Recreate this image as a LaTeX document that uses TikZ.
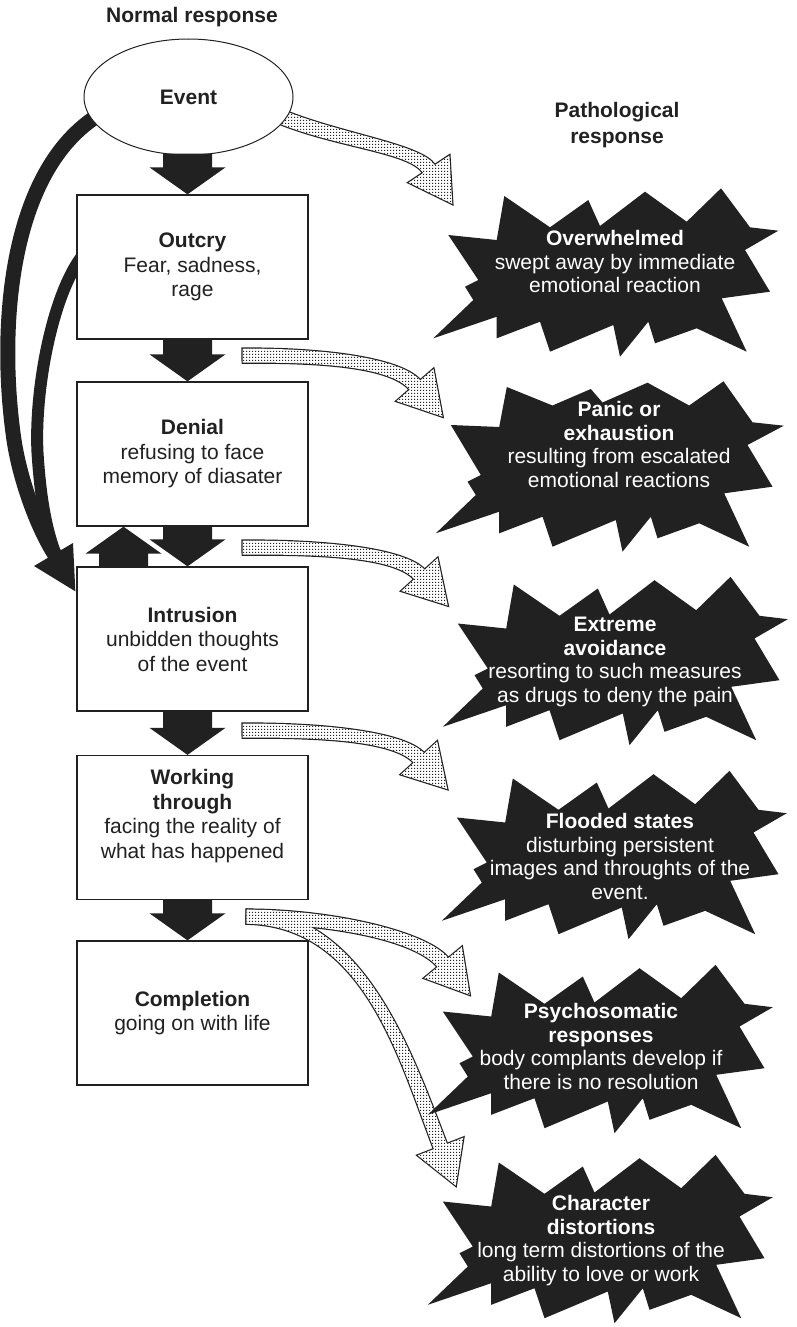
\documentclass[tikz,border=0pt]{standalone}
\usepackage{fontspec}
\setmainfont{Liberation Sans}
\usetikzlibrary{calc,shapes.geometric,patterns,backgrounds}
\definecolor{ink}{RGB}{33,33,33}

% fine grid of square dots for the hollow arrows
\pgfdeclarepatternformonly{finedots}{\pgfqpoint{0pt}{0pt}}{\pgfqpoint{3pt}{3pt}}{\pgfqpoint{3pt}{3pt}}%
  {\pgfpathrectangle{\pgfqpoint{0pt}{0pt}}{\pgfqpoint{1.4pt}{1.5pt}}\pgfusepath{fill}}

% half width of a hollow shaft, half width and length of its head
\def\sw{7pt}
\def\hw{24.5pt}
\def\hl{42pt}

% outline points of a hollow curved arrow with centre line #2 .. #3 and #4 .. #5
\newcommand\hollowdef[5]{%
  \coordinate (#1-0u) at ($(#2)!\sw!90:(#3)$);
  \coordinate (#1-0d) at ($(#2)!\sw!-90:(#3)$);
  \coordinate (#1-1u) at ($(#3)+(#1-0u)-(#2)$);
  \coordinate (#1-1d) at ($(#3)+(#1-0d)-(#2)$);
  \coordinate (#1-2u) at ($(#4)!\sw!90:(#5)$);
  \coordinate (#1-2d) at ($(#4)!\sw!-90:(#5)$);
  \coordinate (#1-3u) at ($(#5)+(#1-2u)-(#4)$);
  \coordinate (#1-3d) at ($(#5)+(#1-2d)-(#4)$);
  \coordinate (#1-hu) at ($(#5)!\hw!-90:(#4)$);
  \coordinate (#1-hd) at ($(#5)!\hw!90:(#4)$);
  \coordinate (#1-tip) at ($(#5)!-\hl!(#4)$);
}
\newcommand\hollow[2]{%
  \path[#2] (#1-0u) .. controls (#1-1u) and (#1-2u) .. (#1-3u) -- (#1-hu)
    -- (#1-tip) -- (#1-hd) -- (#1-3d) .. controls (#1-2d) and (#1-1d) .. (#1-0d) -- cycle;}

% solid block arrow from tail point #1 to tip point #2 (vertical)
\newcommand\blockarrow[2]{%
  \fill[ink] ($(#1)+(-24.5,0)$) -- ($(#2)!27pt!(#1)+(-24.5,0)$) -- ($(#2)!27pt!(#1)+(-38,0)$)
    -- (#2) -- ($(#2)!27pt!(#1)+(38,0)$) -- ($(#2)!27pt!(#1)+(24.5,0)$) -- ($(#1)+(24.5,0)$) -- cycle;}

\tikzset{
  stagebox/.style={draw=ink, line width=1.3pt, fill=white, minimum width=231pt,
    minimum height=144pt, inner sep=0pt},
  stagetext/.style={text=ink, align=center, font=\fontsize{21pt}{24.5pt}\selectfont},
  bursttext/.style={text=white, align=center, font=\fontsize{21pt}{23.5pt}\selectfont},
  heading/.style={text=ink, align=center, font=\fontsize{21pt}{25.5pt}\selectfont\bfseries},
  hollowline/.style={draw=ink, line width=2.4pt, fill=white},
  hollowfill/.style={fill=white, postaction={pattern=finedots, pattern color=ink}},
  burst/.pic={\fill[ink] (-101.2,-76.5) -- (-55.5,-45.2) -- (-17.2,-72.5) -- (-5.5,-46.5)
    -- (39.5,-80.8) -- (81.2,-50.8) -- (115.5,-84.2) -- (144.5,-45.2) -- (172.8,-41.8)
    -- (139.5,-22.5) -- (164.5,19.2) -- (116.2,25.8) -- (141.2,79.2) -- (91.2,55.8)
    -- (49.5,70.8) -- (42.8,49.2) -- (14.5,84.2) -- (7.8,52.5) -- (-55.5,79.2)
    -- (-65.5,49.2) -- (-108.8,65.8) -- (-108.8,44.2) -- (-172.2,65.8) -- (-132.2,27.5)
    -- (-140.5,14.2) -- (-127.2,7.5) -- (-157.2,-37.5) -- (-108.8,-32.5) -- cycle;},
  highburst/.pic={\fill[ink] (-101.2,-80.5) -- (-55.5,-62) -- (-17.2,-78.5) -- (-5.5,-65)
    -- (39.5,-84.8) -- (81.2,-62) -- (115.5,-86.2) -- (144.5,-45.2) -- (175.8,-41.8)
    -- (139.5,-22.5) -- (164.5,19.2) -- (116.2,25.8) -- (141.2,79.2) -- (91.2,55.8)
    -- (49.5,70.8) -- (42.8,49.2) -- (14.5,84.2) -- (7.8,52.5) -- (-55.5,79.2)
    -- (-65.5,49.2) -- (-108.8,65.8) -- (-108.8,44.2) -- (-172.2,65.8) -- (-132.2,27.5)
    -- (-140.5,14.2) -- (-127.2,7.5) -- (-157.2,-42.5) -- (-108.8,-40.5) -- cycle;},
}

\begin{document}
\begin{tikzpicture}[x=1pt,y=-1pt]
\useasboundingbox (0,0) rectangle (797,1327);

% headings
\node[heading] (normal) at (192,17) {Normal response};
\node[heading] (patho) at (617,125) {Pathological\\response};

% normal response chain
\node[ellipse, draw=ink, line width=1pt, fill=white, minimum width=209pt, minimum height=116pt,
  inner sep=0pt, text=ink, font=\fontsize{21pt}{24pt}\selectfont\bfseries] (event) at (188.5,97) {Event};
\node[stagebox] (outcry) at (192.5,267) {};
\node[stagebox] (denial) at (192.5,454) {};
\node[stagebox] (intrusion) at (192.5,639) {};
\node[stagebox] (working) at (192.5,827.5) {};
\node[stagebox] (completion) at (192.5,1013) {};

\node[stagetext] (outcry-t) at (outcry) {\textbf{Outcry}\\Fear, sadness,\\rage};
\node[stagetext] (denial-t) at (denial) {\textbf{Denial}\\refusing to face\\memory of diasater};
\node[stagetext] (intrusion-t) at (intrusion) {\textbf{Intrusion}\\unbidden thoughts\\of the event};
\node[stagetext] (working-t) at ($(working)+(0,-11.5)$) {\textbf{Working}\\\textbf{through}\\facing the reality of\\what has happened};
\node[stagetext] (completion-t) at (completion) {\textbf{Completion}\\going on with life};

% block arrows between the stages
\blockarrow{$(event.south)+(-1,-2)$}{$(outcry.north)+(-5,0)$}
\blockarrow{$(outcry.south)+(-5,0)$}{$(denial.north)+(-5,0)$}
\blockarrow{$(denial.south)+(-5,0)$}{$(intrusion.north)+(-5,0)$}
\blockarrow{$(intrusion.north)+(-69,0)$}{$(denial.south)+(-69,0)$}
\blockarrow{$(intrusion.south)+(-5,0)$}{$(working.north)+(-5,0)$}
\blockarrow{$(working.south)+(-5,0)$}{$(completion.north)+(-5,0)$}

% pathological responses
\pic at (605.5,272.5) {burst};
\node[bursttext] (overwhelmed) at (615,261.5) {\textbf{Overwhelmed}\\swept away by immediate\\emotional reaction};
\pic at (608,467.5) {highburst};
\node[bursttext] (panic) at (619,444.5) {\textbf{Panic or}\\\textbf{exhaustion}\\resulting from escalated\\emotional reactions};
\pic at (615,661) {burst};
\node[bursttext] (avoidance) at (615,662) {\textbf{Extreme}\\\textbf{avoidance}\\resorting to such measures\\as drugs to deny the pain};
\pic at (614,855) {burst};
\node[bursttext] (flooded) at (620,856.5) {\textbf{Flooded states}\\disturbing persistent\\images and throughts of the\\event.};
\pic at (600,1049) {burst};
\node[bursttext] (psycho) at (601,1046.5) {\textbf{Psychosomatic}\\\textbf{responses}\\body complants develop if\\there is no resolution};
\pic at (600,1239) {burst};
\node[bursttext] (character) at (601,1240.5) {\textbf{Character}\\\textbf{distortions}\\long term distortions of the\\ability to love or work};

% hollow dotted arrows towards the pathological responses
\coordinate (a1-p0) at ($(event.-11)+(-8,0)$);
\coordinate (a1-p1) at (340,141);
\coordinate (a1-p2) at (415,148);
\coordinate (a1-p3) at (429,169);
\coordinate (a2-p0) at ($(outcry.south east)+(-66,16)$);
\coordinate (a2-p1) at (320,355);
\coordinate (a2-p2) at (395,362);
\coordinate (a2-p3) at (415,385);
\coordinate (a3-p0) at ($(denial.south east)+(-66,21)$);
\coordinate (a3-p1) at (320,547);
\coordinate (a3-p2) at (399.3,552.3);
\coordinate (a3-p3) at (419.5,574.5);
\coordinate (a4-p0) at ($(intrusion.south east)+(-66,19)$);
\coordinate (a4-p1) at (320,730);
\coordinate (a4-p2) at (399,736);
\coordinate (a4-p3) at (419,758);
\coordinate (a5-p0) at ($(working.south east)+(-62,16.5)$);
\coordinate (a5-p1) at (330,916.5);
\coordinate (a5-p2) at (420.7,935.5);
\coordinate (a5-p3) at (443,962.5);
\coordinate (a6-p1) at (365,919);
\coordinate (a6-p2) at (406,1058);
\coordinate (a6-p3) at (440.5,1146.5);
\hollowdef{a1}{a1-p0}{a1-p1}{a1-p2}{a1-p3}
\hollowdef{a2}{a2-p0}{a2-p1}{a2-p2}{a2-p3}
\hollowdef{a3}{a3-p0}{a3-p1}{a3-p2}{a3-p3}
\hollowdef{a4}{a4-p0}{a4-p1}{a4-p2}{a4-p3}
\hollowdef{a5}{a5-p0}{a5-p1}{a5-p2}{a5-p3}
\hollowdef{a6}{a5-p0}{a6-p1}{a6-p2}{a6-p3}

% feedback arrow end points
\coordinate (fb-base) at (57,558);
\coordinate (fb-tip) at ($(intrusion.north west)+(-1,25)$);
\coordinate (fb-c1) at (34,566);
\coordinate (fb-c2) at (73,543);

\begin{pgfonlayer}{background}
  % feedback from the event and from the outcry back to intrusion
  \draw[ink, line width=15pt, shorten <=-10pt] (event.193) .. controls (8,170) and (-2,330) .. (14,440)
    .. controls (20,480) and (38,530) .. (fb-base);
  \draw[ink, line width=12pt, shorten <=-8pt] ($(outcry.west)+(0,-3)$) .. controls (50,300) and (33,400) .. (38,460)
    .. controls (41,500) and (46,530) .. (fb-base);
  \fill[ink] (fb-c1) -- (fb-tip) -- (fb-c2) -- cycle;

  \foreach \a in {a1,a2,a3,a4} {
    \hollow{\a}{hollowline}
    \hollow{\a}{hollowfill}
  }
  \hollow{a6}{hollowline}
  \hollow{a5}{hollowline}
  \hollow{a6}{hollowfill}
  \hollow{a5}{hollowfill}
\end{pgfonlayer}
\end{tikzpicture}
\end{document}
